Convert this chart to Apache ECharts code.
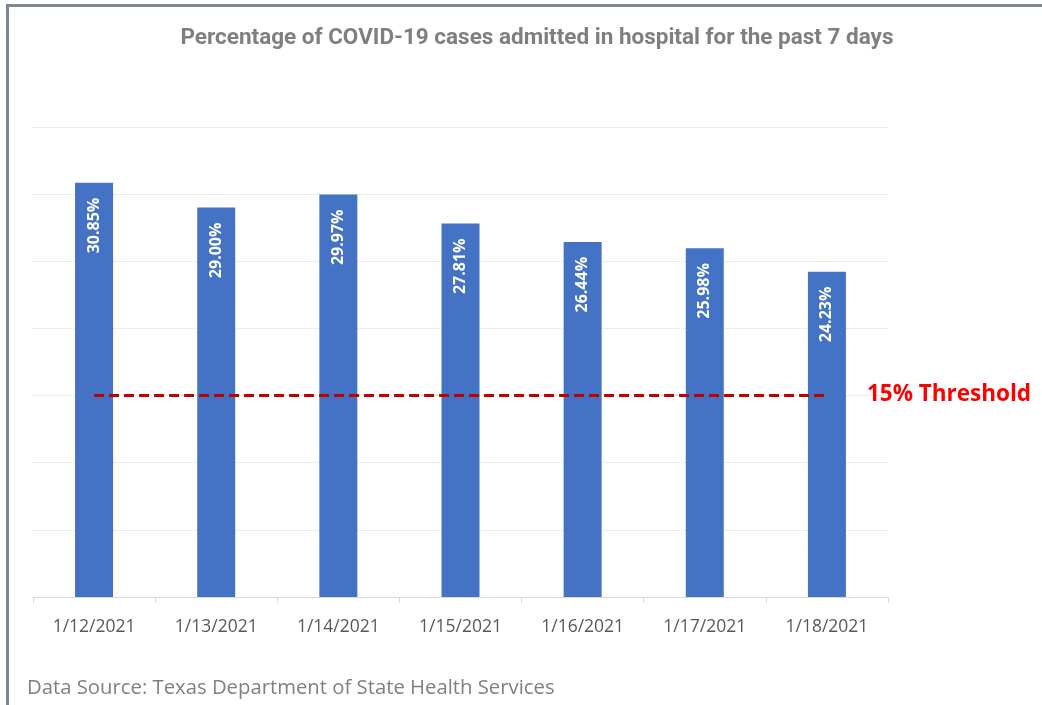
<!DOCTYPE html>
<html>
<head>
<meta charset="utf-8">
<script src="https://cdn.jsdelivr.net/npm/echarts@6/dist/echarts.min.js"></script>
<style>
  html, body { margin: 0; padding: 0; background: #fff; }
  #frame { position: absolute; left: 6px; top: 4px; width: 1036px; height: 701px;
    border-top: 3px solid #7d8796; border-left: 3px solid #7d8796; box-sizing: border-box; }
  #main { position: absolute; left: 0; top: 0; width: 1042px; height: 705px; }
</style>
</head>
<body>
<div id="frame"></div>
<div id="main"></div>
<script>
var titleText = 'Percentage of COVID-19 cases admitted in hospital for the past 7 days'
var sourceText = 'Data Source: Texas Department of State Health Services'
var dates = ['1/12/2021', '1/13/2021', '1/14/2021', '1/15/2021', '1/16/2021', '1/17/2021', '1/18/2021']
var percentValues = [30.85, 29.00, 29.97, 27.81, 26.44, 25.98, 24.23]
var threshold = 15
var thresholdLabel = '15% Threshold'

var chart = echarts.init(document.getElementById('main'), null, { renderer: 'canvas' })

var option = {
  animation: false,
  title: {
    text: titleText,
    left: 532,
    top: 22,
    textAlign: 'center',
    textStyle: {
      fontFamily: 'Roboto, sans-serif',
      fontWeight: 'bold',
      fontSize: 22.5,
      color: '#7f7f7f'
    }
  },
  graphic: [{
    type: 'text',
    left: 27,
    top: 678,
    style: {
      text: sourceText,
      fontFamily: 'Open Sans, sans-serif',
      fontSize: 20.3,
      fill: '#808080'
    }
  }],
  grid: {
    left: 33,
    right: 154,
    top: 127,
    bottom: 108
  },
  xAxis: {
    type: 'category',
    data: dates,
    axisLine: { lineStyle: { color: '#d9d9d9', width: 1 } },
    axisTick: { show: true, length: 6, lineStyle: { color: '#d9d9d9' } },
    axisLabel: {
      margin: 21,
      fontFamily: 'Open Sans, sans-serif',
      fontSize: 17.5,
      color: '#595959'
    }
  },
  yAxis: {
    type: 'value',
    min: 0,
    max: 35,
    interval: 5,
    axisLabel: { show: false },
    axisLine: { show: false },
    axisTick: { show: false },
    splitLine: { lineStyle: { color: '#d9d9d9', type: 'dotted', width: 1 } }
  },
  series: [{
    type: 'bar',
    data: percentValues,
    barWidth: 38,
    itemStyle: { color: '#4472c4' },
    label: {
      show: true,
      position: 'insideTop',
      rotate: 90,
      align: 'right',
      verticalAlign: 'middle',
      distance: 15,
      color: '#fff',
      fontFamily: 'Open Sans, sans-serif',
      fontWeight: 'bold',
      fontSize: 16,
      formatter: function (p) {
        return p.value.toFixed(2) + '%'
      }
    },
    markLine: {
      silent: true,
      symbol: 'none',
      z: 10,
      lineStyle: { color: '#c00000', type: [10, 5], width: 3 },
      label: {
        show: true,
        position: 'end',
        distance: 40,
        formatter: thresholdLabel,
        color: '#ff0000',
        fontFamily: 'Open Sans, sans-serif',
        fontWeight: 'bold',
        fontSize: 22.5,
        offset: [0, -1]
      },
      data: [[
        { coord: [dates[0], threshold] },
        { coord: [dates[dates.length - 1], threshold] }
      ]]
    }
  }]
}

chart.setOption(option)
</script>
</body>
</html>
